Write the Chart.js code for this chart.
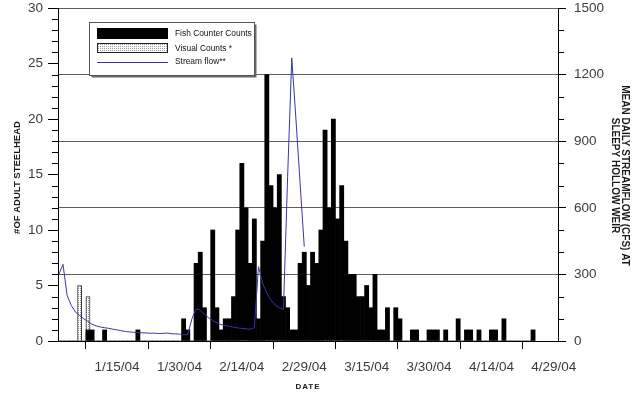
<!DOCTYPE html>
<html>
<head>
<meta charset="utf-8">
<title>Adult steelhead counts and stream flow</title>
<script src="https://cdn.jsdelivr.net/npm/chart.js@4.4.1/dist/chart.umd.min.js"></script>
<style>
  html, body { margin: 0; padding: 0; background: #fff; }
  #wrap { width: 632px; height: 398px; position: relative; }
</style>
</head>
<body>
<div id="wrap"><canvas id="steelhead"></canvas></div>
<script>
// one value per day, day 1 = 1/1/04
const fishCounterCounts = [
  0, 0, 0, 0, 0, 0, 0, 1, 1, 0,
  0, 1, 0, 0, 0, 0, 0, 0, 0, 1,
  0, 0, 0, 0, 0, 0, 0, 0, 0, 0,
  2, 1, 0, 7, 8, 3, 0, 10, 3, 1,
  2, 2, 4, 10, 16, 12, 7, 11, 2, 9,
  24, 14, 12, 15, 4, 3, 1, 1, 7, 8,
  5, 8, 7, 10, 19, 12, 20, 11, 14, 9,
  6, 6, 4, 4, 5, 3, 6, 1, 1, 3,
  0, 3, 2, 0, 0, 1, 1, 0, 0, 1,
  1, 1, 0, 1, 0, 0, 2, 0, 1, 1,
  0, 1, 0, 0, 1, 1, 0, 2, 0, 0,
  0, 0, 0, 0, 1
];

const visualDays = [6, 8];
const visualCounts = [5, 4];

// mean daily flow (cfs), 1/1/04 to 2/29/04
const streamFlow = [
  300, 345, 205, 160, 130, 115, 100, 88, 75, 68,
  63, 60, 57, 53, 50, 46, 43, 41, 39, 38,
  37, 36, 35, 35, 34, 34, 36, 33, 32, 31,
  28, 30, 100, 145, 140, 120, 105, 92, 82, 74,
  70, 66, 62, 59, 57, 55, 53, 60, 335, 260,
  215, 185, 162, 150, 142, 740, 1275, 1000, 710, 425
];

const tickDays = [15, 30, 45, 60, 75, 90, 105, 120];
const tickLabels = ['1/15/04', '1/30/04', '2/14/04', '2/29/04', '3/15/04', '3/30/04', '4/14/04', '4/29/04'];

const leftTitle = '#OF ADULT STEELHEAD';
const rightTitle = ['MEAN DAILY STREAMFLOW (CFS) AT', 'SLEEPY HOLLOW WEIR'];
const bottomTitle = 'DATE';

const FONT = "'Liberation Sans', Arial, sans-serif";
const flowColor = '#3636a6';

// dotted fill for the visual counts
const makeDots = () => {
  const c = document.createElement('canvas');
  c.width = 2; c.height = 2;
  const g = c.getContext('2d');
  g.fillStyle = '#fff';
  g.fillRect(0, 0, 2, 2);
  g.fillStyle = '#a0a0a0';
  g.fillRect(0, 0, 1, 1);
  return g.createPattern(c, 'repeat');
};
const dots = makeDots();

const extras = {
  id: 'extras',
  afterDraw(chart) {
    const { ctx, chartArea, scales } = chart;
    const yl = scales.y, yr = scales.y1;
    ctx.save();

    // minor ticks
    ctx.strokeStyle = '#000';
    ctx.lineWidth = 1;
    ctx.beginPath();
    for (let v = 0; v <= 30; v++) {
      if (v % 5 === 0) continue;
      const py = Math.round(yl.getPixelForValue(v)) + 0.5;
      ctx.moveTo(chartArea.left - 6, py);
      ctx.lineTo(chartArea.left, py);
    }
    for (let v = 0; v <= 1500; v += 100) {
      if (v % 300 === 0) continue;
      const py = Math.round(yr.getPixelForValue(v)) + 0.5;
      ctx.moveTo(chartArea.right, py);
      ctx.lineTo(chartArea.right + 6, py);
    }
    ctx.stroke();

    // axis titles
    ctx.fillStyle = '#1a1a1a';
    ctx.textAlign = 'center';
    ctx.textBaseline = 'middle';
    ctx.font = 'bold 9.5px ' + FONT;
    const midY = (chartArea.top + chartArea.bottom) / 2;

    ctx.save();
    ctx.translate(17, midY + 3);
    ctx.rotate(-Math.PI / 2);
    ctx.fillText(leftTitle, 0, 0);
    ctx.restore();

    ctx.save();
    ctx.translate(625, midY + 1);
    ctx.rotate(Math.PI / 2);
    ctx.font = 'bold 10px ' + FONT;
    ctx.fillText(rightTitle[0], 0, 0);
    ctx.fillText(rightTitle[1], 0, 10);
    ctx.restore();

    ctx.font = 'bold 8px ' + FONT;
    ctx.letterSpacing = '1px';
    ctx.fillText(bottomTitle, 308, 387);
    ctx.letterSpacing = '0px';

    // legend box
    const bx = 89.5, by = 22.5, bw = 165, bh = 53;
    ctx.fillStyle = '#6a6a6a';
    ctx.fillRect(bx + 2, by + 2, bw, bh);
    ctx.fillStyle = '#fff';
    ctx.fillRect(bx, by, bw, bh);
    ctx.strokeStyle = '#555';
    ctx.strokeRect(bx, by, bw, bh);

    const ds = chart.data.datasets;
    const sx = 97, sw = 71;
    ctx.fillStyle = '#000';
    ctx.fillRect(sx, 28, sw, 11);

    ctx.fillStyle = dots;
    ctx.fillRect(sx, 43, sw, 10);
    ctx.strokeStyle = '#222';
    ctx.strokeRect(sx + 0.5, 43.5, sw - 1, 9);

    ctx.strokeStyle = flowColor;
    ctx.beginPath();
    ctx.moveTo(sx, 62.5);
    ctx.lineTo(sx + sw, 62.5);
    ctx.stroke();

    ctx.fillStyle = '#111';
    ctx.textAlign = 'left';
    ctx.font = '8.4px ' + FONT;
    ctx.fillText(ds[1].label, 175, 34);
    ctx.fillText(ds[2].label, 175, 48.5);
    ctx.fillText(ds[0].label, 175, 62);

    ctx.restore();
  }
};

const tickFont = { family: FONT, size: 13.5 };
const tickColor = '#3c3c3c';

// keep the plot top close to the top label
const fitVertical = (w) => (s) => {
  s.width = w;
  s.paddingTop = 8;
  s.paddingBottom = 8;
};

new Chart(document.getElementById('steelhead'), {
  type: 'bar',
  data: {
    datasets: [
      {
        type: 'line',
        label: 'Stream flow**',
        data: streamFlow.map((v, i) => ({ x: i + 1, y: v })),
        yAxisID: 'y1',
        borderColor: flowColor,
        borderWidth: 1,
        pointRadius: 0,
        tension: 0,
        order: 0
      },
      {
        label: 'Fish Counter Counts',
        data: fishCounterCounts.map((v, i) => ({ x: i + 1, y: v })),
        yAxisID: 'y',
        backgroundColor: '#000',
        borderWidth: 0,
        grouped: false,
        barPercentage: 1,
        categoryPercentage: 1,
        order: 1
      },
      {
        label: 'Visual Counts *',
        data: visualDays.map((d, i) => ({ x: d, y: visualCounts[i] })),
        yAxisID: 'y',
        backgroundColor: dots,
        borderColor: '#333',
        borderWidth: 1,
        grouped: false,
        barPercentage: 1,
        categoryPercentage: 1,
        order: 2
      }
    ]
  },
  options: {
    responsive: true,
    maintainAspectRatio: false,
    animation: false,
    layout: { padding: 0 },
    plugins: {
      legend: { display: false },
      tooltip: { enabled: false }
    },
    scales: {
      x: {
        type: 'linear',
        offset: false,
        min: 0.8,
        max: 121,
        afterBuildTicks: (s) => { s.ticks = tickDays.map(v => ({ value: v })); },
        afterFit: (s) => { s.height = 57; },
        ticks: {
          callback: (v) => tickLabels[tickDays.indexOf(v)] || '',
          maxRotation: 0,
          autoSkip: false,
          padding: 10,
          font: tickFont,
          color: tickColor
        },
        grid: { drawOnChartArea: false, tickLength: 8, color: '#000' },
        border: { color: '#000' }
      },
      y: {
        position: 'left',
        min: 0,
        max: 30,
        afterFit: fitVertical(58),
        ticks: { stepSize: 5, padding: 5, font: tickFont, color: tickColor },
        grid: { drawOnChartArea: false, tickLength: 10, color: '#000' },
        border: { color: '#000' }
      },
      y1: {
        position: 'right',
        min: 0,
        max: 1500,
        afterFit: fitVertical(74),
        ticks: { stepSize: 300, padding: 8, font: tickFont, color: tickColor, callback: (v) => String(v) },
        grid: { color: '#5e5e5e', tickColor: '#000', tickLength: 8 },
        border: { color: '#000' }
      }
    }
  },
  plugins: [extras]
});
</script>
</body>
</html>
